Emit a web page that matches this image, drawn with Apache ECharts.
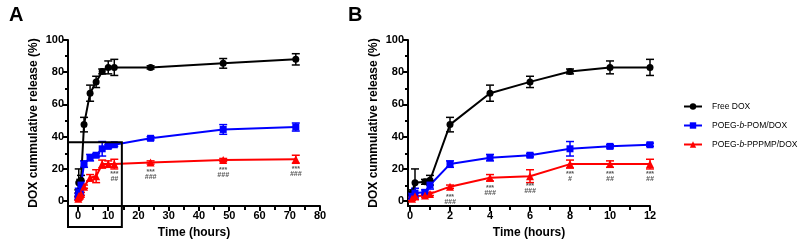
<!DOCTYPE html>
<html>
<head>
<meta charset="utf-8">
<script src="https://cdn.jsdelivr.net/npm/echarts@6/dist/echarts.min.js"></script>
<style>
  html, body { margin: 0; padding: 0; background: #fff; }
  #main { width: 800px; height: 244px; }
</style>
</head>
<body>
<div id="main"></div>
<script>
// sampling times (hours)
var times = [0.1, 0.25, 0.75, 1, 2, 4, 6, 8, 10, 12, 24, 48, 72];

// Free DOX
var freeMean = [5, 11.5, 12, 13, 47.5, 67, 74, 80.5, 83, 83, 83, 85.5, 88];
var freeErr  = [2, 8.5, 1.5, 3, 4.5, 5, 3.5, 1.5, 4, 5, 1, 3, 3.5];
// POEG-b-POM/DOX
var pomMean = [3, 5, 5.5, 10, 23, 27, 28.5, 32.5, 34, 35, 39, 44.5, 46];
var pomErr  = [2, 3, 1.5, 2.5, 2, 2, 1, 4.5, 1, 1, 1, 3, 2.5];
// POEG-b-PPPMP/DOX
var pppMean = [1.5, 3, 3.5, 4.5, 9, 14.5, 15.5, 23, 23, 23, 24, 25.5, 26];
var pppErr  = [1, 2, 1, 1, 1, 2, 4, 2.5, 2, 3, 1, 1, 2.5];

// significance marks under the red curve
var markTimesA = [12, 24, 48, 72];
var markHashA  = ['##', '###', '###', '###'];
var markTimesB = [2, 4, 6, 8, 10, 12];
var markHashB  = ['###', '###', '###', '#', '##', '##'];

// tick labels
var xTicksA = [0, 10, 20, 30, 40, 50, 60, 70, 80];
var xMinorA = [5, 15, 25, 35, 45, 55, 65, 75];
var xTicksB = [0, 2, 4, 6, 8, 10, 12];
var xMinorB = [1, 3, 5, 7, 9, 11];
var yTicks = [0, 20, 40, 60, 80, 100];
var yMinor = [10, 30, 50, 70, 90];

var names = ['Free DOX', 'POEG-b-POM/DOX', 'POEG-b-PPPMP/DOX'];
var colors = ['#000000', '#0000ff', '#ff0000'];
var symbols = ['circle', 'rect', 'triangle'];
var means = [freeMean, pomMean, pppMean];
var errs = [freeErr, pomErr, pppErr];

var chart = echarts.init(document.getElementById('main'));

var fam = 'Liberation Sans, Arial';
var nameFont = { fontFamily: fam, fontWeight: 'bold', fontSize: 12, color: '#000' };

function mainX(grid, min, max, ticks) {
    return {
        type: 'value', gridIndex: grid, min: min, max: max,
        name: 'Time (hours)', nameLocation: 'middle', nameGap: 21,
        nameTextStyle: nameFont,
        axisLine: { show: true, onZero: false, lineStyle: { color: '#000', width: 2 } },
        axisTick: { show: true, customValues: ticks, length: 5, lineStyle: { color: '#000', width: 2 } },
        axisLabel: { customValues: ticks, margin: 4, fontFamily: fam, fontWeight: 'bold', fontSize: 11, color: '#000' },
        splitLine: { show: false }
    };
}
// minor ticks live on a twin grid with the same rectangle
function minorX(grid, min, max, ticks) {
    return {
        type: 'value', gridIndex: grid, min: min, max: max, position: 'bottom',
        axisLine: { show: true, onZero: false, lineStyle: { color: '#000', width: 2, opacity: 0 } },
        axisTick: { show: true, customValues: ticks, length: 3, lineStyle: { color: '#000', width: 2 } },
        axisLabel: { show: false },
        splitLine: { show: false }
    };
}
function mainY(grid) {
    return {
        type: 'value', gridIndex: grid, min: -3, max: 100,
        name: 'DOX cummulative release (%)', nameLocation: 'middle', nameGap: 28,
        nameTextStyle: nameFont,
        axisLine: { show: true, onZero: false, lineStyle: { color: '#000', width: 2 } },
        axisTick: { show: true, customValues: yTicks, length: 5, lineStyle: { color: '#000', width: 2 } },
        axisLabel: { customValues: yTicks, margin: 4, fontFamily: fam, fontWeight: 'bold', fontSize: 11, color: '#000' },
        splitLine: { show: false }
    };
}
function minorY(grid) {
    return {
        type: 'value', gridIndex: grid, min: -3, max: 100, position: 'left',
        axisLine: { show: true, onZero: false, lineStyle: { color: '#000', width: 2, opacity: 0 } },
        axisTick: { show: true, customValues: yMinor, length: 3, lineStyle: { color: '#000', width: 2 } },
        axisLabel: { show: false },
        splitLine: { show: false }
    };
}

function errorBars(xi, yi, color, values, errors, maxT) {
    var data = [];
    for (var i = 0; i < times.length; i++) {
        if (times[i] <= maxT) data.push([times[i], values[i], errors[i]]);
    }
    return {
        type: 'custom', xAxisIndex: xi, yAxisIndex: yi, z: 2, silent: true,
        encode: { x: 0, y: 1 },
        data: data,
        renderItem: function (params, api) {
            var x = api.value(0), y = api.value(1), e = api.value(2);
            var hi = api.coord([x, y + e]);
            var lo = api.coord([x, y - e]);
            var w = 4;
            var st = { stroke: color, lineWidth: 1.5 };
            return {
                type: 'group',
                children: [
                    { type: 'line', shape: { x1: hi[0], y1: hi[1], x2: lo[0], y2: lo[1] }, style: st },
                    { type: 'line', shape: { x1: hi[0] - w, y1: hi[1], x2: hi[0] + w, y2: hi[1] }, style: st },
                    { type: 'line', shape: { x1: lo[0] - w, y1: lo[1], x2: lo[0] + w, y2: lo[1] }, style: st }
                ]
            };
        }
    };
}

function lineSeries(k, xi, yi, maxT) {
    var data = [];
    for (var i = 0; i < times.length; i++) {
        if (times[i] <= maxT) data.push([times[i], means[k][i]]);
    }
    return {
        name: names[k], type: 'line', xAxisIndex: xi, yAxisIndex: yi, z: 3,
        data: data,
        symbol: symbols[k], symbolSize: k === 2 ? 8 : 7,
        showAllSymbol: true,
        lineStyle: { color: colors[k], width: 2 },
        itemStyle: { color: colors[k] },
        animation: false
    };
}

function marks(xi, yi, mt, mh) {
    var data = [];
    for (var i = 0; i < mt.length; i++) {
        var idx = times.indexOf(mt[i]);
        data.push([mt[i], pppMean[idx], mh[i]]);
    }
    return {
        type: 'custom', xAxisIndex: xi, yAxisIndex: yi, z: 4, silent: true,
        encode: { x: 0, y: 1 },
        data: data,
        renderItem: function (params, api) {
            var p = api.coord([api.value(0), api.value(1)]);
            var h = data[params.dataIndex][2];
            var f = 'bold 7px Liberation Sans, Arial';
            return {
                type: 'group',
                children: [
                    { type: 'text', x: p[0], y: p[1] + 10, style: { text: '***', font: f, fill: '#555', align: 'center', verticalAlign: 'middle' } },
                    { type: 'text', x: p[0], y: p[1] + 15, style: { text: h, font: 'italic ' + f, fill: '#555', align: 'center', verticalAlign: 'middle' } }
                ]
            };
        }
    };
}

var series = [];
// panel A
for (var k = 0; k < 3; k++) series.push(errorBars(0, 0, colors[k], means[k], errs[k], 100));
for (var k = 0; k < 3; k++) series.push(lineSeries(k, 0, 0, 100));
series.push(marks(0, 0, markTimesA, markHashA));
// panel B
for (var k = 0; k < 3; k++) series.push(errorBars(1, 1, colors[k], means[k], errs[k], 12));
for (var k = 0; k < 3; k++) series.push(lineSeries(k, 1, 1, 12));
series.push(marks(1, 1, markTimesB, markHashB));

var gridA = { left: 68, right: 480, top: 40, bottom: 37 };
var gridB = { left: 408, right: 150, top: 40, bottom: 37 };

var option = {
    backgroundColor: '#fff',
    animation: false,
    title: [
        { text: 'A', left: 4, top: 0, textStyle: { fontFamily: fam, fontWeight: 'bold', fontSize: 20, color: '#000' } },
        { text: 'B', left: 343, top: 0, textStyle: { fontFamily: fam, fontWeight: 'bold', fontSize: 20, color: '#000' } }
    ],
    legend: {
        data: names,
        orient: 'vertical',
        left: 683, top: 102, padding: 0,
        itemWidth: 18, itemHeight: 8, itemGap: 10,
        textStyle: {
            fontFamily: fam, fontSize: 8.5, color: '#000', padding: [0, 0, 0, 5],
            rich: {
                n: { fontFamily: fam, fontSize: 8.5, color: '#000' },
                i: { fontFamily: fam, fontSize: 8.5, fontStyle: 'italic', color: '#000' }
            }
        },
        formatter: function (name) {
            var parts = name.split('-b-');
            if (parts.length === 2) return '{n|' + parts[0] + '-}{i|b}{n|-' + parts[1] + '}';
            return '{n|' + name + '}';
        }
    },
    grid: [gridA, gridB, gridA, gridB],
    xAxis: [
        mainX(0, -3.3, 80, xTicksA),
        mainX(1, -0.1, 12, xTicksB),
        minorX(2, -3.3, 80, xMinorA),
        minorX(3, -0.1, 12, xMinorB)
    ],
    yAxis: [
        mainY(0), mainY(1),
        minorY(2), minorY(3)
    ],
    series: series
};

chart.setOption(option);

// zoom box around the first 12 h in panel A
var tl = chart.convertToPixel({ xAxisIndex: 0, yAxisIndex: 0 }, [14.5, 36.6]);
var origin = chart.convertToPixel({ xAxisIndex: 0, yAxisIndex: 0 }, [-3.3, -3]);
chart.setOption({
    graphic: [{
        type: 'rect', z: 100, silent: true,
        shape: { x: origin[0], y: tl[1], width: tl[0] - origin[0], height: origin[1] + 21 - tl[1] },
        style: { fill: 'none', stroke: '#000', lineWidth: 2 }
    }]
});
</script>
</body>
</html>
